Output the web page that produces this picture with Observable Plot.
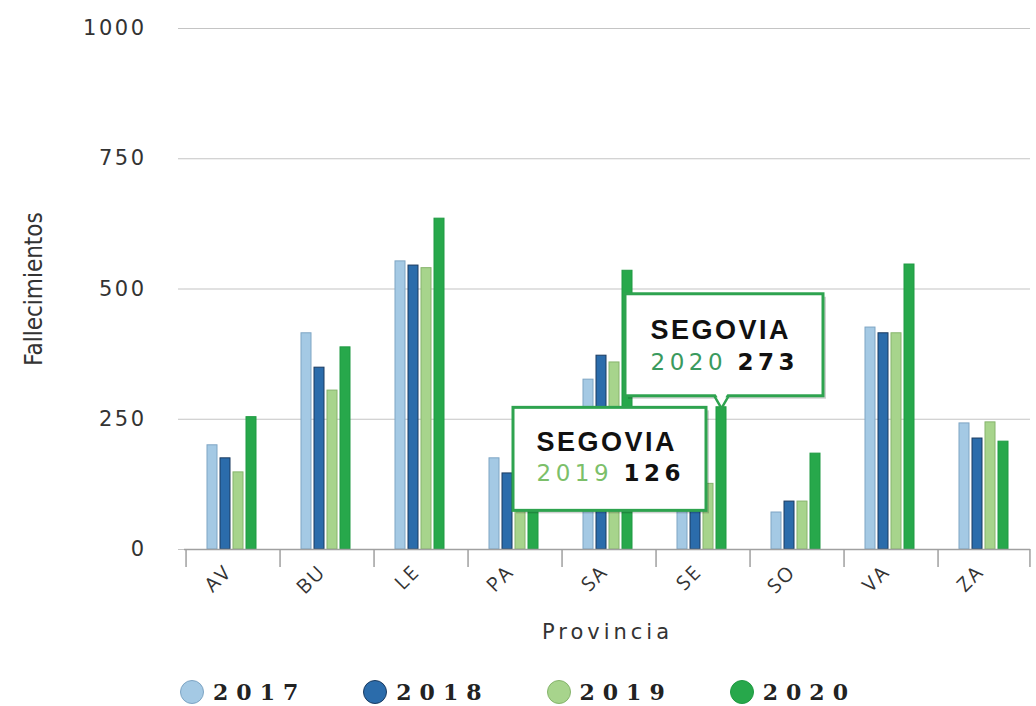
<!DOCTYPE html>
<html>
<head>
<meta charset="utf-8">
<script src="https://cdn.jsdelivr.net/npm/d3@7"></script>
<script src="https://cdn.jsdelivr.net/npm/@observablehq/plot@0.6"></script>
<style>
  body { margin: 0; background: #fff; }
  #chart svg { display: block; overflow: visible; }
  g[aria-label="y-axis tick label"] text { font-family: "DejaVu Sans", sans-serif; font-size: 21px; letter-spacing: 2.5px; fill: #333; }
  g[aria-label="fx-axis tick label"] text { font-family: "Open Sans", sans-serif; font-size: 20px; letter-spacing: 2px; fill: #333; }
  g[aria-label="y-axis label"] text { font-family: "Liberation Sans Narrow", "DejaVu Sans Condensed", sans-serif; font-size: 24px; fill: #333; }
  g[aria-label="fx-axis label"] text { font-family: "DejaVu Sans", sans-serif; font-size: 21px; letter-spacing: 4px; fill: #333; }
  .tip-name text { letter-spacing: 2.5px; }
  .tip-num text { letter-spacing: 4.5px; }
  .legend { display: flex; justify-content: center; align-items: center; gap: 57px; margin-top: 34px;
            font-family: "DejaVu Serif", serif; font-weight: bold; font-size: 22px; letter-spacing: 8px; color: #222; }
  .legend .item { display: flex; align-items: center; }
  .legend .sw { display: inline-block; width: 24px; height: 24px; border-radius: 50%; margin-right: 9px; box-sizing: border-box; }
</style>
</head>
<body>
<div id="chart"></div>
<div class="legend" id="legend"></div>
<script>
// ---- data ----
const provinces = ["AV", "BU", "LE", "PA", "SA", "SE", "SO", "VA", "ZA"];
const years = ["2017", "2018", "2019", "2020"];
const deaths2017 = [200, 415, 553, 175, 326, 110, 71, 426, 242];
const deaths2018 = [175, 349, 545, 146, 372, 100, 92, 415, 213];
const deaths2019 = [148, 305, 540, 125, 359, 126, 92, 415, 244];
const deaths2020 = [254, 388, 635, 140, 535, 273, 184, 547, 207];
const yTicks = [0, 250, 500, 750, 1000];
const tipProvince = "SE";
const tipName = "SEGOVIA";
const tipYears = ["2019", "2020"];

// ---- styles ----
const fills = ["#a4c9e4", "#2b6cab", "#a7d48c", "#27a84b"];
const strokes = ["#7ea5c4", "#1b3b60", "#86b46c", "#1f9a42"];
const tipYearColors = {"2019": "#7cbf6a", "2020": "#3a9a5e"};

const series = [deaths2017, deaths2018, deaths2019, deaths2020];
const data = provinces.flatMap((p, i) => years.map((yr, j) => ({prov: p, year: yr, value: series[j][i]})));
const tipData = tipYears.map(yr => ({prov: tipProvince, year: yr, name: tipName,
  value: series[years.indexOf(yr)][provinces.indexOf(tipProvince)]}));

const W = 1036, H = 645, ML = 183, MR = 6, MT = 28, MB = 96;
const plotH = H - MT - MB;
const padIn = 0.25, padOut = 1.55;
const facetW = (W - ML - MR) / provinces.length;
const step = facetW / (years.length - padIn + 2 * padOut);
const bw = step * (1 - padIn);
const edge = padOut * step + bw / 2;

// callout geometry (pixel offsets relative to the data point)
const tipStyle = {
  "2019": {box: {insetLeft: -190, insetRight: 7, insetTop: -76, insetBottom: -27}, nameDx: -172, nameDy: -41, numDy: -10, pointer: false},
  "2020": {box: {insetLeft: -91, insetRight: -97, insetTop: -113, insetBottom: 11}, nameDx: -71, nameDy: -77, numDy: -45, pointer: true}
};
const nameFont = {fontFamily: "Liberation Sans, Arial, sans-serif", fontWeight: "bold", fontSize: 27};
const numFont = {fontFamily: "DejaVu Sans, sans-serif", fontSize: 23};

const tipMarks = tipData.flatMap(t => {
  const s = tipStyle[t.year];
  const d = [t];
  const base = {fx: "prov", x: "year"};
  const marks = [];
  marks.push(Plot.barY(d, {...base, y1: "value", y2: "value", ...s.box, fill: "#000", fillOpacity: 0.18, dx: 3, dy: 3}));
  if (s.pointer) marks.push(Plot.dot(d, {...base, y: "value", symbol: "triangle", rotate: 180, r: 9, dy: -13, fill: "white", stroke: "#2ea34f", strokeWidth: 2.5}));
  marks.push(Plot.barY(d, {...base, y1: "value", y2: "value", ...s.box, fill: "white", stroke: "#2ea34f", strokeWidth: 3}));
  if (s.pointer) marks.push(Plot.dot(d, {...base, y: "value", symbol: "triangle", rotate: 180, r: 7, dy: -14, fill: "white"}));
  marks.push(Plot.text(d, {...base, y: "value", text: "name", dx: s.nameDx, dy: s.nameDy, textAnchor: "start", fill: "#111", ...nameFont, className: "tip-name"}));
  marks.push(Plot.text(d, {...base, y: "value", text: "year", dx: s.nameDx, dy: s.numDy, textAnchor: "start", fill: tipYearColors[t.year], ...numFont, className: "tip-num"}));
  marks.push(Plot.text(d, {...base, y: "value", text: dd => String(dd.value), dx: s.nameDx + 87, dy: s.numDy, textAnchor: "start", fill: "#111", ...numFont, fontWeight: 600, className: "tip-num"}));
  return marks;
});

const chart = Plot.plot({
  width: W, height: H,
  marginLeft: ML, marginRight: MR, marginTop: MT, marginBottom: MB,
  style: {background: "white", overflow: "visible"},
  fx: {domain: provinces, padding: 0},
  x: {domain: years, paddingInner: padIn, paddingOuter: padOut, axis: null},
  y: {domain: [0, 1000]},
  marks: [
    Plot.gridY(yTicks, {stroke: "#c4c4c4", strokeOpacity: 1, strokeWidth: 1.2}),
    Plot.axisY(yTicks, {tickSize: 6, tickPadding: 32, stroke: "#c4c4c4", tickFormat: d => String(d),
      label: "Fallecimientos", labelAnchor: "center", labelArrow: "none", labelOffset: 160}),
    Plot.axisFx({anchor: "bottom", tickSize: 0, tickRotate: -45, tickPadding: 19, dx: -3,
      label: "Provincia", labelAnchor: "center", labelArrow: "none", labelOffset: 89}),
    ...years.map((yr, j) => Plot.barY(data.filter(d => d.year === yr),
      {fx: "prov", x: "year", y: "value", fill: fills[j], stroke: strokes[j], strokeWidth: 1})),
    Plot.ruleY([0], {stroke: "#a0a0a0", strokeWidth: 1.5}),
    Plot.ruleX(provinces, {fx: d => d, x: () => years[0], dx: -edge, insetTop: plotH, insetBottom: -18, stroke: "#a0a0a0", strokeWidth: 1.5}),
    Plot.ruleX(provinces.slice(-1), {fx: d => d, x: () => years[years.length - 1], dx: edge, insetTop: plotH, insetBottom: -18, stroke: "#a0a0a0", strokeWidth: 1.5}),
    ...tipMarks
  ]
});
document.getElementById("chart").append(chart);

const legend = document.getElementById("legend");
years.forEach((yr, j) => {
  const item = document.createElement("div");
  item.className = "item";
  const sw = document.createElement("span");
  sw.className = "sw";
  sw.style.background = fills[j];
  sw.style.border = `1px solid ${strokes[j]}`;
  const lab = document.createElement("span");
  lab.textContent = yr;
  item.append(sw, lab);
  legend.append(item);
});
</script>
</body>
</html>
